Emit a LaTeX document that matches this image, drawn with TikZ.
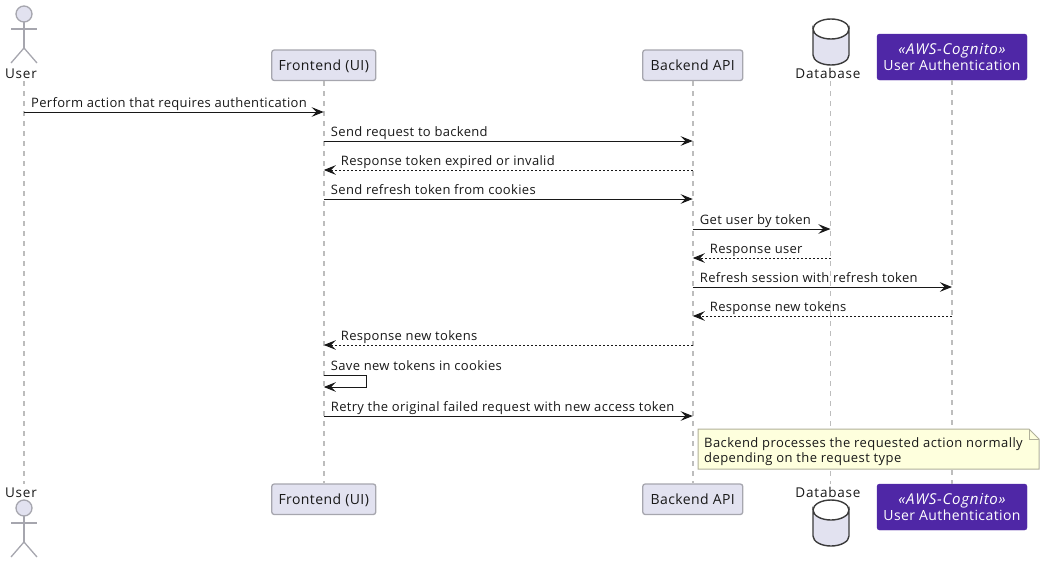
\documentclass[tikz,border=0pt]{standalone}
\usepackage{fontspec}
\setmainfont{Open Sans}
\usetikzlibrary{arrows.meta, positioning}
\definecolor{boxfill}{HTML}{E2E2F0}
\definecolor{boxline}{HTML}{A6A6AE}
\definecolor{lifegrey}{HTML}{BDBDBD}
\definecolor{awsfill}{HTML}{4F27A6}
\definecolor{notefill}{HTML}{FEFFDD}
\definecolor{noteline}{HTML}{B0B09A}
\definecolor{inkline}{HTML}{181818}
\newfontfamily\widefont[LetterSpace=6]{Open Sans}
\newfontfamily\msgfont[LetterSpace=2.5]{Open Sans}
\newfontfamily\notefont[LetterSpace=3.3]{Open Sans}
\newfontfamily\boxfont[LetterSpace=3]{Open Sans}
\newfontfamily\stereofont[LetterSpace=5]{Open Sans Italic}
\tikzset{
  part/.style={draw=boxline, fill=boxfill, line width=1.3pt, rounded corners=2.5pt, minimum height=30.5pt, inner sep=0pt, text height=12pt, text depth=1pt, font=\boxfont\fontsize{14}{16}\selectfont, text=inkline},
  awspart/.style={draw=awsfill, fill=awsfill, rounded corners=2.5pt, minimum width=150pt, minimum height=46pt, inner sep=0pt, align=center, text=white, font=\boxfont\fontsize{14}{16}\selectfont},
  iconlabel/.style={inner sep=0pt, minimum height=14pt, font=\widefont\fontsize{13.5}{16}\selectfont, text=inkline},
  lifeline/.style={draw=lifegrey, line width=1.6pt, dash pattern=on 5pt off 5pt},
  msg/.style={draw=inkline, line width=1pt, -{Stealth[length=12pt, width=9.5pt, inset=4.5pt]}},
  backmsg/.style={msg, dash pattern=on 2pt off 2pt},
  msglabel/.style={inner sep=0pt, font=\msgfont\fontsize{13}{15}\selectfont, text=inkline},
  actorline/.style={draw=boxline, line width=1.3pt},
  dbline/.style={draw=inkline!85, fill=boxfill, line width=1.4pt},
}
\begin{document}
\begin{tikzpicture}[x=1pt, y=-1pt]
\useasboundingbox (0,0) rectangle (1046,565);
% participants, top row
\node[iconlabel] (usertop) at (21,73.6) {User};
\node[part, minimum width=104pt] (fronttop) at (323.75,65.25) {Frontend (UI)};
\node[part, minimum width=100pt] (backtop) at (692.75,65.25) {Backend API};
\node[iconlabel] (datatop) at (828,73) {Database};
\node[awspart] (awstop) at (952,57) {{\stereofont\fontsize{15}{16}\selectfont «AWS-Cognito»}\\User Authentication};
% participants, bottom row
\node[iconlabel] (userbot) at (21,492.6) {User};
\node[part, minimum width=104pt] (frontbot) at (323.75,499.25) {Frontend (UI)};
\node[part, minimum width=100pt] (backbot) at (692.75,499.25) {Backend API};
\node[iconlabel] (databot) at (828,492) {Database};
\node[awspart] (awsbot) at (952,507) {{\stereofont\fontsize{15}{16}\selectfont «AWS-Cognito»}\\User Authentication};
% lifelines
\coordinate (userup) at (24,81);
\coordinate (userdown) at (24,484);
\coordinate (dataup) at (830.5,81);
\coordinate (datadown) at (830.5,484);
\draw[lifeline] (userup) -- (userdown);
\draw[lifeline] (fronttop.south) -- (frontbot.north);
\draw[lifeline] (backtop.south) -- (backbot.north);
\draw[lifeline] (dataup) -- (datadown);
\draw[lifeline] (awstop.south) -- (awsbot.north);
% actors
\foreach \y in {14,508}
{
  \draw[actorline, fill=boxfill] (24,\y) circle (8);
  \draw[actorline] (24,\y+8)--(24,\y+34);
  \draw[actorline] (11,\y+15)--(37,\y+15);
  \draw[actorline] (11,\y+49)--(24,\y+34)--(37,\y+49);
}
% database icons
\foreach \y in {29,510}
{
  \draw[dbline] (813,\y) arc[start angle=180, end angle=0, x radius=18, y radius=10]
    -- (849,\y+26) arc[start angle=0, end angle=180, x radius=18, y radius=10] -- cycle;
  \draw[dbline, fill=none] (813,\y) arc[start angle=180, end angle=360, x radius=18, y radius=10];
}
% requests
\foreach \y/\a/\b/\t in {
  112/userup/fronttop/Perform action that requires authentication,
  141/fronttop/backtop/Send request to backend,
  199/fronttop/backtop/Send refresh token from cookies,
  229/backtop/dataup/Get user by token,
  287/backtop/awstop/Refresh session with refresh token,
  416/fronttop/backtop/Retry the original failed request with new access token}
{
  \draw[msg] (\a |- 0,\y) -- (\b |- 0,\y);
  \node[msglabel, anchor=base west] (req\y) at ([xshift=7pt]\a |- 0,\y-5) {\t};
}
% responses
\foreach \y/\a/\b/\t in {
  170/backtop/fronttop/Response token expired or invalid,
  258/dataup/backtop/Response user,
  316/awstop/backtop/Response new tokens,
  345/backtop/fronttop/Response new tokens}
{
  \draw[backmsg] (\a |- 0,\y) -- (\b |- 0,\y);
  \node[msglabel, anchor=base west] (resp\y) at ([xshift=17pt]\b |- 0,\y-5) {\t};
}
% self message
\draw[msg] (fronttop |- 0,375) -- ++(42.5,0) -- ++(0,12) -- (fronttop |- 0,387);
\node[msglabel, anchor=base west] (selfmsg) at ([xshift=7pt]fronttop |- 0,370) {Save new tokens in cookies};
% note
\draw[draw=noteline, fill=notefill, line width=1pt] (698,429) -- (1029,429) -- (1039,439) -- (1039,469) -- (698,469) -- cycle;
\draw[draw=noteline, line width=1pt] (1029,429) -- (1029,439) -- (1039,439);
\node[msglabel, anchor=west, align=left, font=\notefont\fontsize{13}{15}\selectfont] (notetext) at (704,451.3) {Backend processes the requested action normally\\depending on the request type};
\end{tikzpicture}
\end{document}
